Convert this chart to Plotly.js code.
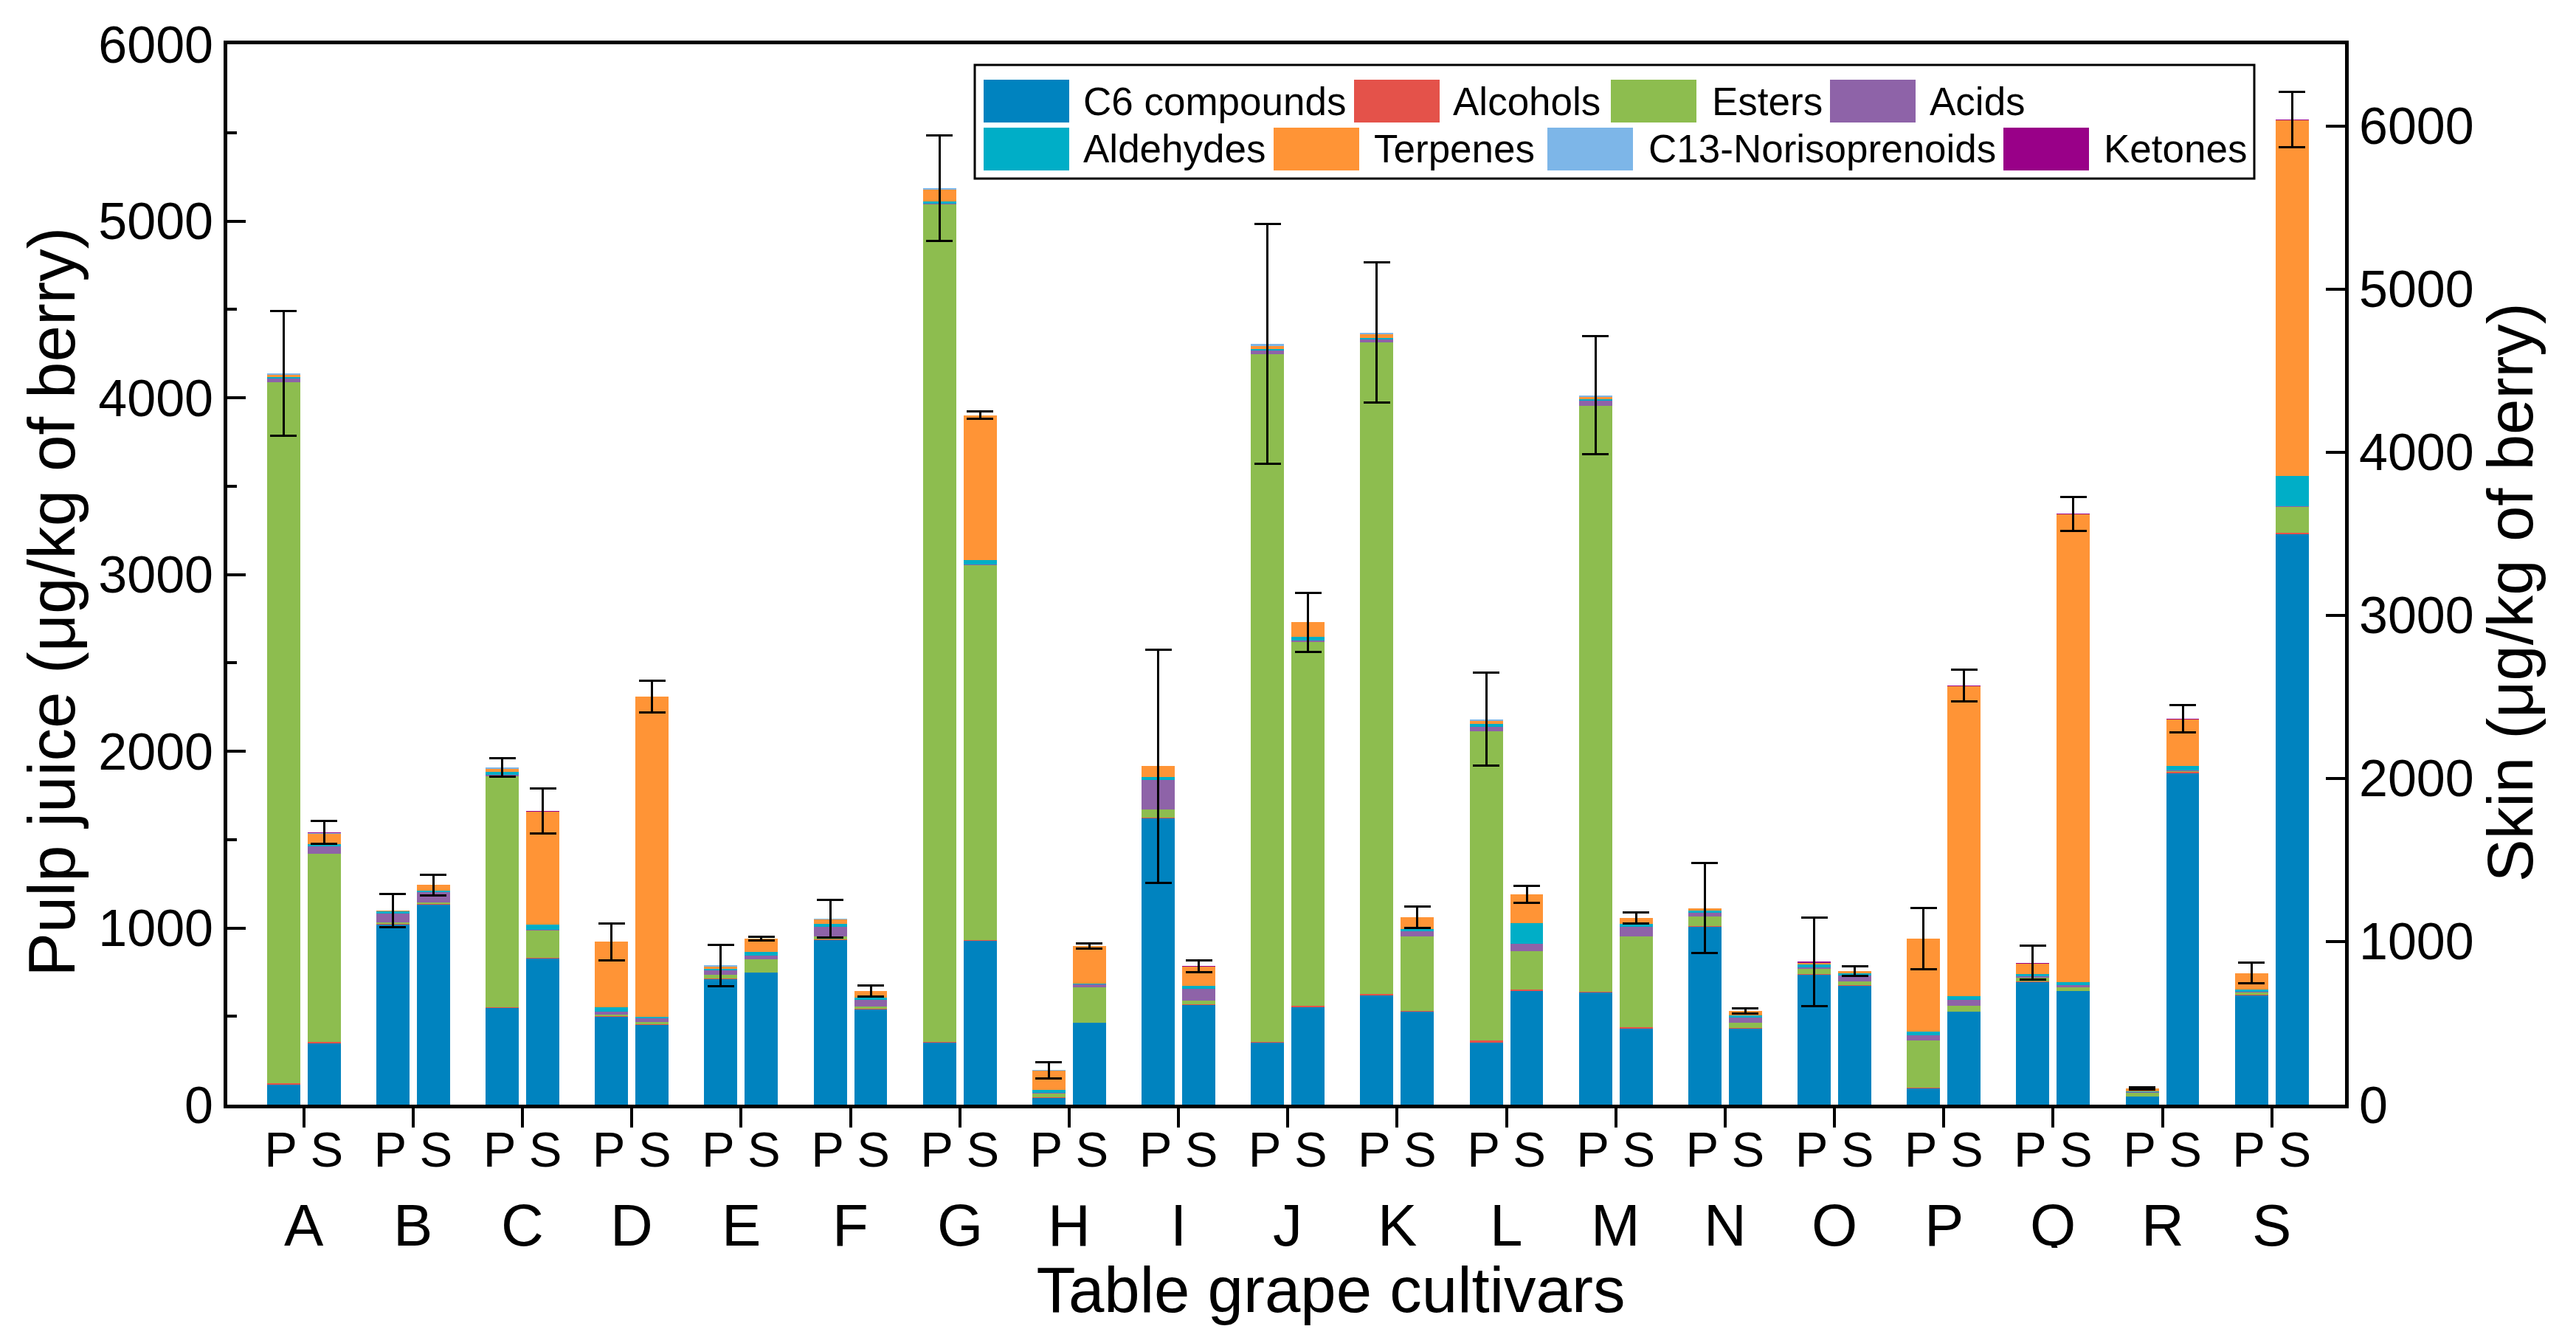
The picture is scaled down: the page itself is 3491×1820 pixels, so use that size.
<!DOCTYPE html>
<html>
<head>
<meta charset="utf-8">
<script src="https://cdn.plot.ly/plotly-3.0.1.min.js"></script>
<style>html,body{margin:0;padding:0;background:#fff;}</style>
</head>
<body>
<div id="chart" style="width:3491px;height:1820px;"></div>
<script>
// ---------- data ----------
const cultivars = ['A','B','C','D','E','F','G','H','I','J','K','L','M','N','O','P','Q','R','S'];
const seriesNames = ['C6 compounds','Alcohols','Esters','Acids','Aldehydes','Terpenes','C13-Norisoprenoids','Ketones'];
const seriesColors = ['#0083BF','#E4524A','#8DBD4F','#8E63A8','#00AEC7','#FF9436','#7DB6E8','#990088'];

// Pulp juice (left axis), µg/kg of berry
const pulpC6        = [113,1020,547,495,710,930,350,38,1620,350,620,350,633,1005,735,92,695,45,620];
const pulpAlcohols  = [8,5,5,8,5,5,5,4,5,5,6,12,5,4,3,3,3,3,3];
const pulpEsters    = [3967,8,1306,5,20,15,4739,20,45,3891,3687,1751,3316,56,30,268,20,20,10];
const pulpAcids     = [20,50,10,18,25,56,5,5,167,20,15,25,29,21,10,29,10,3,5];
const pulpAldehydes = [10,12,15,25,10,15,10,17,17,10,12,17,10,12,17,21,11,5,15];
const pulpTerpenes  = [10,3,15,370,10,25,70,108,62,15,20,17,13,13,5,526,58,16,92];
const pulpC13       = [8,0,10,0,8,6,8,4,0,15,8,8,7,0,3,0,0,0,0];
const pulpKetones   = [0,0,0,0,0,0,0,0,0,0,0,0,0,0,5,0,5,0,0];
const pulpSD        = [353,92,54,104,117,105,299,46,660,678,397,263,334,255,250,174,96,8,60];

// Skin (right axis), µg/kg of berry
const skinC6        = [375,1226,897,490,808,585,1005,500,612,598,568,695,468,468,730,568,695,2030,3495];
const skinAlcohols  = [8,5,5,5,3,5,5,3,4,6,5,12,5,4,3,4,3,8,12];
const skinEsters    = [1155,10,165,10,80,12,2296,215,20,2232,458,234,558,30,22,34,21,8,156];
const skinAcids     = [45,60,5,25,23,40,5,18,74,10,32,45,59,32,36,36,16,5,5];
const skinAldehydes = [13,10,32,10,22,15,27,8,18,21,14,127,18,13,14,23,16,25,185];
const skinTerpenes  = [65,35,690,1960,82,38,886,228,118,91,72,176,36,27,14,1899,2867,285,2180];
const skinC13       = [5,0,3,0,0,0,3,0,0,0,0,0,0,0,0,0,0,0,0];
const skinKetones   = [3,0,3,0,0,0,0,0,4,0,0,0,0,0,0,5,5,4,5];
const skinSD        = [72,63,138,97,11,34,22,16,36,181,66,52,34,16,30,97,104,84,170];

const sampleTickText = 'P S';
const xTitle = 'Table grape cultivars';
const yTitle = 'Pulp juice (μg/kg of berry)';
const y2Title = 'Skin (μg/kg of berry)';

// ---------- build ----------
const pulpSeries = [pulpC6,pulpAlcohols,pulpEsters,pulpAcids,pulpAldehydes,pulpTerpenes,pulpC13,pulpKetones];
const skinSeries = [skinC6,skinAlcohols,skinEsters,skinAcids,skinAldehydes,skinTerpenes,skinC13,skinKetones];

const FONT = 'Liberation Sans, Arial, Helvetica, sans-serif';
const NB = '&nbsp;';
const idx = cultivars.map((c,i)=>i);
const OFF = 0.1855, BW = 0.303;
const xP = idx.map(i=>i-OFF);
const xS = idx.map(i=>i+OFF);

const errStyle = {type:'data', visible:true, color:'#000', thickness:3, width:18};
const traces = [];
pulpSeries.forEach((vals,k)=>{
  const t = {type:'bar', name:seriesNames[k], x:xP, y:vals, xaxis:'x', yaxis:'y', width:BW,
    marker:{color:seriesColors[k], line:{width:0}}, showlegend:false, hoverinfo:'skip'};
  if(k===pulpSeries.length-1) t.error_y = Object.assign({array:pulpSD}, errStyle);
  traces.push(t);
});
skinSeries.forEach((vals,k)=>{
  const t = {type:'bar', name:seriesNames[k], x:xS, y:vals, xaxis:'x', yaxis:'y2', width:BW,
    marker:{color:seriesColors[k], line:{width:0}}, showlegend:false, hoverinfo:'skip'};
  if(k===skinSeries.length-1) t.error_y = Object.assign({array:skinSD}, errStyle);
  traces.push(t);
});

// pixel -> paper helpers (plot area 308..3178 x, 60..1497 y)
const PL=308, PR=3178, PT=60, PB=1497;
const px = p => (p-PL)/(PR-PL);
const py = p => (PB-p)/(PB-PT);

const annotations = cultivars.map((c,i)=>({
  text:c, x:i, xref:'x', y:py(1660), yref:'paper', yanchor:'middle', xanchor:'center', height:62,
  showarrow:false, font:{family:FONT, size:80, color:'#000'}
}));

// manual legend (two rows, flowing)
const legendSlots = [
  {sw:1333, tx:1466, row:0}, {sw:1835, tx:1967, row:0}, {sw:2183, tx:2318, row:0}, {sw:2480, tx:2613, row:0},
  {sw:1333, tx:1466, row:1}, {sw:1726, tx:1860, row:1}, {sw:2097, tx:2232, row:1}, {sw:2715, tx:2849, row:1}
];
const rowTop = [108,173];
const shapes = [{type:'rect', xref:'paper', yref:'paper', x0:px(1321), x1:px(3055), y0:py(88), y1:py(242),
  line:{color:'#000', width:3}, fillcolor:'#fff', layer:'above'}];
seriesNames.forEach((n,k)=>{
  const s = legendSlots[k];
  shapes.push({type:'rect', xref:'paper', yref:'paper', x0:px(s.sw), x1:px(s.sw+116),
    y0:py(rowTop[s.row]), y1:py(rowTop[s.row]+58), line:{width:0}, fillcolor:seriesColors[k], layer:'above'});
  annotations.push({text:n, x:px(s.tx), xref:'paper', y:py(rowTop[s.row]+29), yref:'paper',
    xanchor:'left', yanchor:'middle', showarrow:false, font:{family:FONT, size:53, color:'#000'}});
});

const layout = {
  width:3491, height:1820,
  margin:{l:PL, r:3491-PR, t:PT, b:1820-PB, autoexpand:false},
  paper_bgcolor:'#fff', plot_bgcolor:'#fff',
  barmode:'stack', showlegend:false,
  font:{family:FONT, color:'#000'},
  xaxis:{range:[-0.70,18.67], tickmode:'array', tickvals:idx, ticktext:idx.map(()=>sampleTickText),
    ticks:'outside', ticklen:26, tickwidth:4, tickcolor:'#000', tickfont:{family:FONT, size:67, color:'#000'},
    ticklabelstandoff:-27,
    showline:true, linewidth:5, linecolor:'#000', mirror:true, showgrid:false, zeroline:false, automargin:false,
    title:{text:NB.repeat(5)+xTitle, font:{family:FONT, size:87, color:'#000'}, standoff:124}},
  yaxis:{range:[0,6000], tick0:0, dtick:1000, ticks:'inside', ticklen:25, tickwidth:4, tickcolor:'#000',
    minor:{dtick:500, ticks:'inside', ticklen:13, tickwidth:4, tickcolor:'#000', showgrid:false},
    tickfont:{family:FONT, size:70, color:'#000'}, showline:true, linewidth:5, linecolor:'#000',
    showgrid:false, zeroline:false, automargin:false,
    title:{text:yTitle+NB.repeat(3), font:{family:FONT, size:89, color:'#000'}, standoff:4}},
  yaxis2:{overlaying:'y', side:'right', range:[0,6500], tick0:0, dtick:1000, ticks:'inside', ticklen:26, tickwidth:4, tickcolor:'#000',
    tickfont:{family:FONT, size:70, color:'#000'}, showline:true, linewidth:5, linecolor:'#000',
    showgrid:false, zeroline:false, automargin:false,
    title:{text:y2Title+NB.repeat(2), font:{family:FONT, size:87, color:'#000'}, standoff:4}},
  shapes:shapes, annotations:annotations
};

Plotly.newPlot('chart', traces, layout, {displayModeBar:false, staticPlot:true});
</script>
</body>
</html>
